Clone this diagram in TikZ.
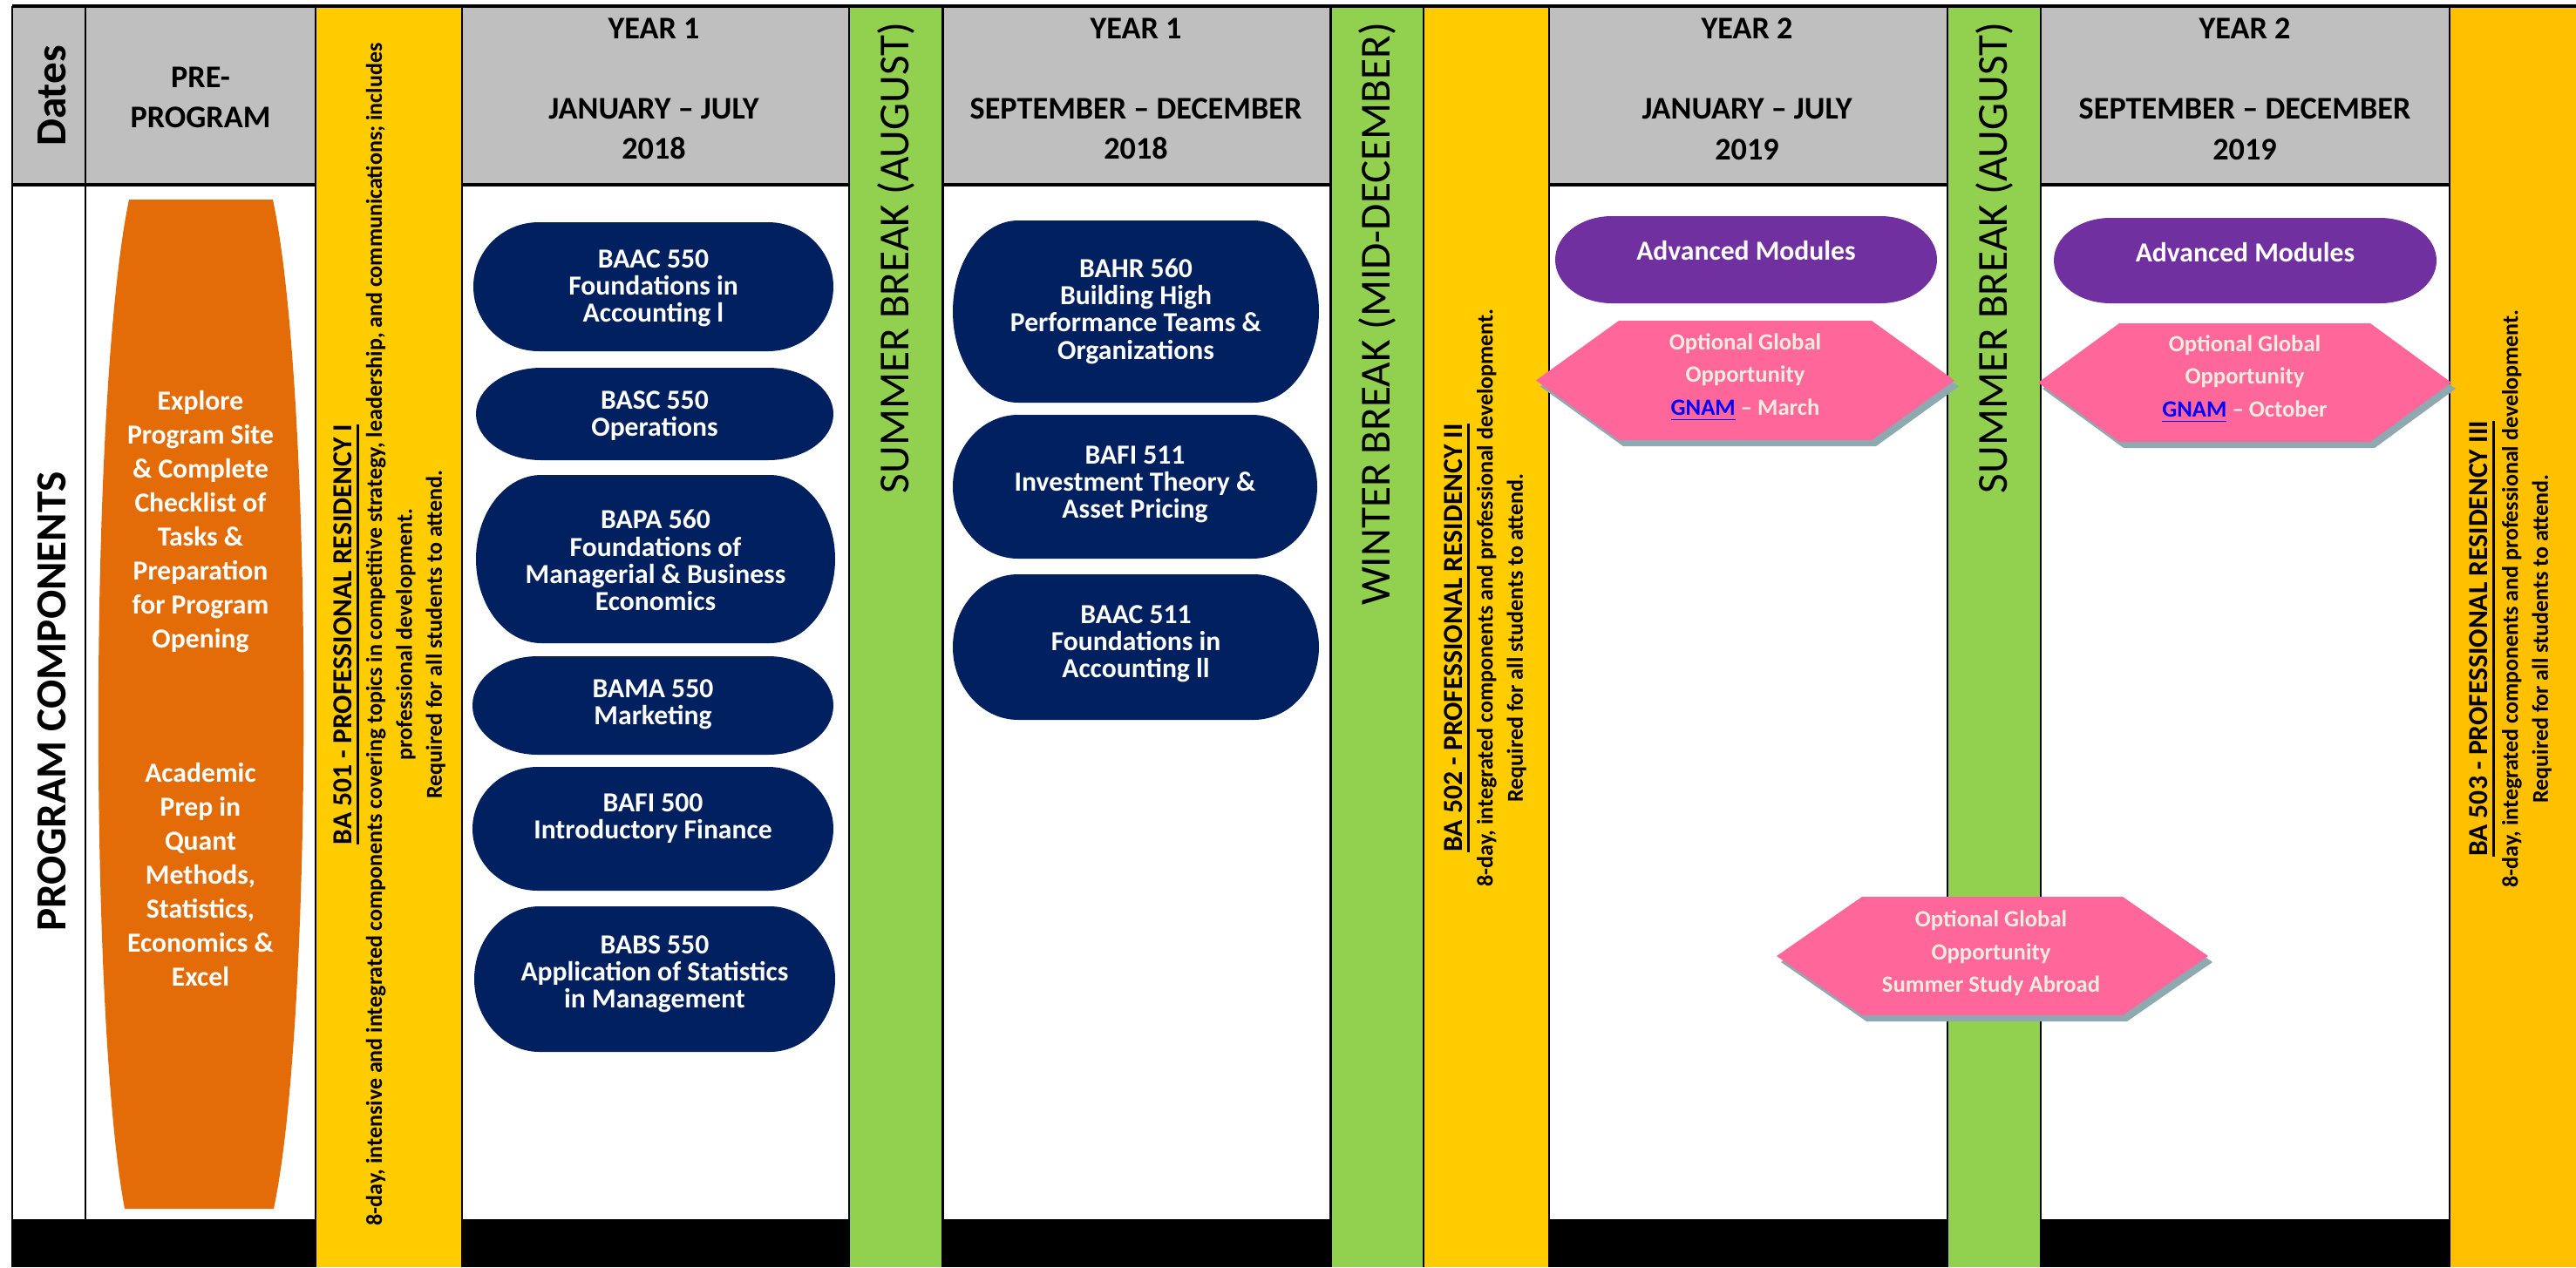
\documentclass[tikz,border=0pt]{standalone}
\usepackage{fontspec}
\setmainfont{Carlito}
\usetikzlibrary{positioning}

\definecolor{headgray}{HTML}{BFBFBF}
\definecolor{resyellow}{HTML}{FFCC00}
\definecolor{resamber}{HTML}{FFC000}
\definecolor{breakgreen}{HTML}{92D050}
\definecolor{coursenavy}{HTML}{002060}
\definecolor{modpurple}{HTML}{7030A0}
\definecolor{optpink}{HTML}{FF6699}
\definecolor{preporange}{HTML}{E36C09}
\definecolor{optcream}{HTML}{EEECE1}
\definecolor{optshadow}{HTML}{8FA9B1}
\definecolor{linkblue}{HTML}{0000FF}

% thick underline for the residency titles
\newcommand{\titleul}[1]{\setbox0\hbox{#1}\rlap{\rule[-2.4pt]{\wd0}{0.9pt}}\box0}

% pill shape: centre x, centre y, width, height, end radius, colour
\newcommand{\pillshape}[6]{%
  \fill[#6] ({#1-#3/2+#5},{#2+#4/2}) -- ({#1+#3/2-#5},{#2+#4/2})
    arc[start angle=90, end angle=-90, x radius=#5, y radius={#4/2}]
    -- ({#1-#3/2+#5},{#2-#4/2})
    arc[start angle=270, end angle=90, x radius=#5, y radius={#4/2}] -- cycle;}

% hexagon with drop shadow: centre x, centre y, half width, half height, inset
\newcommand{\hexshape}[5]{%
  \fill[optshadow, shift={(0.05,-0.07)}] ({#1-#3},#2) -- ({#1-#3+#5},{#2+#4}) -- ({#1+#3-#5},{#2+#4})
    -- ({#1+#3},#2) -- ({#1+#3-#5},{#2-#4}) -- ({#1-#3+#5},{#2-#4}) -- cycle;
  \fill[optpink] ({#1-#3},#2) -- ({#1-#3+#5},{#2+#4}) -- ({#1+#3-#5},{#2+#4})
    -- ({#1+#3},#2) -- ({#1+#3-#5},{#2-#4}) -- ({#1-#3+#5},{#2-#4}) -- cycle;}

\begin{document}
\begin{tikzpicture}[
    colhead/.style={
        font=\fontsize{10.3}{13.1}\selectfont\bfseries,
        align=center,
        inner sep=0pt
    },
    sidelabel/.style={
        rotate=90,
        inner sep=0pt,
        font=\fontsize{14}{16}\selectfont\bfseries
    },
    breaklabel/.style={
        rotate=90,
        anchor=east,
        inner sep=0pt,
        font=\fontsize{14}{16}\selectfont
    },
    residency/.style={
        rotate=90,
        align=center,
        inner sep=0pt,
        font=\fontsize{7.4}{9.8}\selectfont\bfseries
    },
    prep/.style={
        font=\fontsize{9}{11.1}\selectfont\bfseries,
        text=white,
        align=center,
        inner sep=0pt
    },
    course/.style={
        font=\fontsize{9}{8.9}\selectfont\bfseries,
        text=white,
        align=center,
        inner sep=0pt
    },
    optional/.style={
        font=\fontsize{7.6}{10.7}\selectfont\bfseries,
        text=optcream,
        align=center,
        inner sep=0pt
    },
    tableline/.style={
        draw=black,
        line width=0.6pt
    }
]

\useasboundingbox (0,0) rectangle (29.55,-14.54);

% Header band and black footer band
\fill[headgray] (0.14,-0.07) rectangle (28.10,-2.12);
\fill[black] (0.14,-13.99) rectangle (28.10,-14.54);
\draw[tableline, line width=0.9pt] (0.14,-2.12) -- (28.10,-2.12);

% Residency and break columns (full height)
\fill[resyellow] (3.62,-0.07) rectangle (5.30,-14.54);
\fill[breakgreen] (9.74,-0.07) rectangle (10.815,-14.54);
\fill[breakgreen] (15.265,-0.07) rectangle (16.33,-14.54);
\fill[resyellow] (16.33,-0.07) rectangle (17.77,-14.54);
\fill[breakgreen] (22.34,-0.07) rectangle (23.41,-14.54);
\fill[resamber] (28.10,-0.07) rectangle (29.55,-14.54);

% Column rules
\draw[tableline] (0.14,-0.07) -- (0.14,-14.54)
    (0.98,-0.07) -- (0.98,-14.54)
    (3.62,-0.07) -- (3.62,-14.54)
    (5.30,-0.07) -- (5.30,-14.54)
    (9.74,-0.07) -- (9.74,-14.54)
    (10.815,-0.07) -- (10.815,-14.54)
    (15.265,-0.07) -- (15.265,-14.54)
    (16.33,-0.07) -- (16.33,-14.54)
    (17.77,-0.07) -- (17.77,-14.54)
    (22.34,-0.07) -- (22.34,-14.54)
    (23.41,-0.07) -- (23.41,-14.54)
    (28.10,-0.07) -- (28.10,-14.54);
\draw[tableline, line width=0.9pt] (0.14,-0.07) -- (29.55,-0.07);

% Header row
\node[sidelabel] (dates) at (0.60,-1.10) {Dates};
\node[colhead] (preprog) at (2.30,-1.115) {PRE-\\PROGRAM};
\node[colhead, anchor=north] (jan18) at (7.50,-0.205) {YEAR 1\\[0.46cm]JANUARY – JULY\\2018};
\node[colhead, anchor=north] (sep18) at (13.03,-0.205) {YEAR 1\\[0.46cm]SEPTEMBER – DECEMBER\\2018};
\node[colhead, anchor=north] (jan19) at (20.04,-0.205) {YEAR 2\\[0.46cm]JANUARY – JULY\\2019};
\node[colhead, anchor=north] (sep19) at (25.75,-0.205) {YEAR 2\\[0.46cm]SEPTEMBER – DECEMBER\\2019};

% Row label
\node[sidelabel] (components) at (0.60,-8.05) {PROGRAM COMPONENTS};

% Pre-program
\fill[preporange] (1.48,-2.29) -- (3.13,-2.29) .. controls (3.60,-4.5) and (3.60,-11.7) .. (3.14,-13.87)
    -- (1.43,-13.87) .. controls (1.02,-11.7) and (1.02,-4.5) .. (1.48,-2.29) -- cycle;
\node[prep] (prepnote) at (2.30,-7.90) {Explore\\Program Site\\\& Complete\\Checklist of\\Tasks \&\\Preparation\\for Program\\Opening\\[1.15cm]Academic\\Prep in\\Quant\\Methods,\\Statistics,\\Economics \&\\Excel};

% Residencies
\node[residency] (res1) at (4.47,-7.28) {{\fontsize{9}{9.8}\selectfont\titleul{BA 501 - PROFESSIONAL RESIDENCY I}}\\
    8-day, intensive and integrated components covering topics in competitive strategy, leadership, and communications; includes\\
    professional development.\\
    Required for all students to attend.};
\node[residency] (res2) at (17.04,-7.32) {{\fontsize{9}{9.8}\selectfont\titleul{BA 502 - PROFESSIONAL RESIDENCY II}}\\
    \hspace*{0.92cm}8-day, integrated components and professional development.\\
    Required for all students to attend.};
\node[residency] (res3) at (28.80,-7.33) {{\fontsize{9}{9.8}\selectfont\titleul{BA 503 - PROFESSIONAL RESIDENCY III}}\\
    \hspace*{0.92cm}8-day, integrated components and professional development.\\
    Required for all students to attend.};

% Breaks
\node[breaklabel] (summer18) at (10.28,-0.25) {SUMMER BREAK (AUGUST)};
\node[breaklabel] (winter18) at (15.80,-0.25) {WINTER BREAK (MID-DECEMBER)};
\node[breaklabel] (summer19) at (22.875,-0.25) {SUMMER BREAK (AUGUST)};

% Year 1 January - July courses
\pillshape{7.495}{-3.29}{4.13}{1.48}{0.75}{coursenavy}
\node[course] (baac550) at (7.495,-3.31) {BAAC 550\\Foundations in\\Accounting l};
\pillshape{7.51}{-4.75}{4.10}{1.06}{0.75}{coursenavy}
\node[course] (basc550) at (7.51,-4.77) {BASC 550\\Operations};
\pillshape{7.52}{-6.415}{4.12}{1.93}{0.75}{coursenavy}
\node[course] (bapa560) at (7.52,-6.43) {BAPA 560\\Foundations of\\Managerial \& Business\\Economics};
\pillshape{7.49}{-8.095}{4.14}{1.13}{0.75}{coursenavy}
\node[course] (bama550) at (7.49,-8.08) {BAMA 550\\Marketing};
\pillshape{7.49}{-9.51}{4.14}{1.42}{0.75}{coursenavy}
\node[course] (bafi500) at (7.49,-9.39) {BAFI 500\\Introductory Finance};
\pillshape{7.51}{-11.235}{4.14}{1.67}{0.75}{coursenavy}
\node[course] (babs550) at (7.51,-11.18) {BABS 550\\Application of Statistics\\in Management};

% Year 1 September - December courses
\pillshape{13.03}{-3.575}{4.20}{2.09}{0.75}{coursenavy}
\node[course] (bahr560) at (13.03,-3.57) {BAHR 560\\Building High\\Performance Teams \&\\Organizations};
\pillshape{13.02}{-5.585}{4.18}{1.65}{0.75}{coursenavy}
\node[course] (bafi511) at (13.02,-5.56) {BAFI 511\\Investment Theory \&\\Asset Pricing};
\pillshape{13.03}{-7.425}{4.20}{1.67}{0.75}{coursenavy}
\node[course] (baac511) at (13.03,-7.39) {BAAC 511\\Foundations in\\Accounting ll};

% Year 2 advanced modules
\pillshape{20.03}{-2.98}{4.38}{1.00}{0.65}{modpurple}
\node[course] (adv19a) at (20.03,-2.88) {Advanced Modules};
\pillshape{25.755}{-2.99}{4.39}{0.98}{0.65}{modpurple}
\node[course] (adv19b) at (25.755,-2.90) {Advanced Modules};

% Optional global opportunities
\hexshape{20.02}{-4.365}{2.40}{0.685}{0.95}
\node[optional] (gnammar) at (20.02,-4.33) {Optional Global\\Opportunity\\\textcolor{linkblue}{\underline{GNAM}} – March};
\hexshape{25.75}{-4.39}{2.37}{0.68}{0.93}
\node[optional] (gnamoct) at (25.75,-4.35) {Optional Global\\Opportunity\\\textcolor{linkblue}{\underline{GNAM}} – October};
\hexshape{22.855}{-10.97}{2.475}{0.68}{0.98}
\node[optional] (abroad) at (22.84,-10.94) {Optional Global\\Opportunity\\Summer Study Abroad};

\end{tikzpicture}
\end{document}
